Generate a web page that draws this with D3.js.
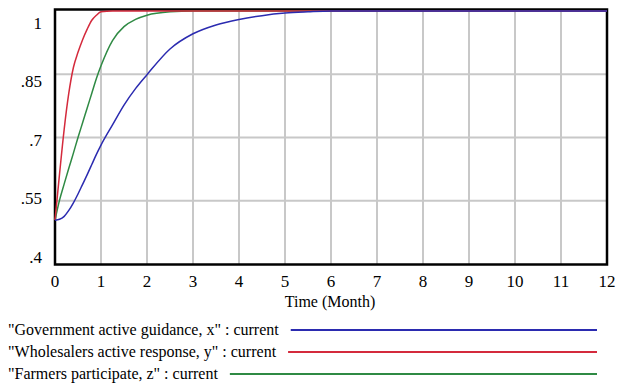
<!DOCTYPE html>
<html>
<head>
<meta charset="utf-8">
<script src="https://cdn.jsdelivr.net/npm/d3@7"></script>
</head>
<body style="margin:0">
<div id="plot"></div>
<script>
// time axis (months) and the three simulated series
const time = [0, 0.1, 0.2, 0.3, 0.4, 0.5, 0.6, 0.7, 0.8, 0.9, 1, 1.25, 1.5, 1.75, 2, 2.5, 3, 3.5, 4, 4.5, 5, 5.5, 6, 7, 8, 9, 10, 11, 12];
const govX = [0.504, 0.506, 0.513, 0.527, 0.545, 0.566, 0.589, 0.612, 0.636, 0.66, 0.682, 0.73, 0.777, 0.816, 0.849, 0.91, 0.946, 0.967, 0.98, 0.989, 0.995, 0.998, 1, 1, 1, 1, 1, 1, 1];
const wholesaleY = [0.504, 0.615, 0.72, 0.805, 0.866, 0.902, 0.932, 0.957, 0.978, 0.99, 0.998, 1, 1, 1, 1, 1, 1, 1, 1, 1, 1, 1, 1, 1, 1, 1, 1, 1, 1];
const farmersZ = [0.504, 0.552, 0.59, 0.627, 0.663, 0.7, 0.735, 0.77, 0.805, 0.84, 0.87, 0.93, 0.963, 0.98, 0.99, 0.998, 1, 1, 1, 1, 1, 1, 1, 1, 1, 1, 1, 1, 1];

const seriesNames = ['"Government active guidance, x" : current', '"Wholesalers active response, y" : current', '"Farmers participate, z" : current'];
const seriesColors = ["#2b2bb0", "#d42a3c", "#2f8a44"];
const xTicks = d3.range(0, 13);
const yTicks = [0.4, 0.55, 0.7, 0.85, 1];
const yTickLabels = [".4", ".55", ".7", ".85", "1"];

let width = 624, height = 389;
let plot = {left: 55, right: 607, top: 11, bottom: 264};
let serif = "'Times New Roman', 'DejaVu Serif', serif";

let svg = d3.select("#plot")
  .append("svg")
    .attr("width", width)
    .attr("height", height)
    .style("display", "block");

let x = d3.scaleLinear().domain([0, 12]).range([plot.left, plot.right]);
let y = d3.scaleLinear().domain([0.4, 1]).range([plot.bottom, plot.top]);
// vensim squeezes the y labels a little inside the frame
let yLab = d3.scaleLinear().domain([0.4, 1]).range([256.5, 22.5]);

// grid
svg.append("g")
  .selectAll("line")
  .data(xTicks.slice(1, -1))
  .enter().append("line")
    .attr("x1", d => x(d)).attr("x2", d => x(d))
    .attr("y1", plot.top).attr("y2", plot.bottom)
    .attr("stroke", "#c8c8c8").attr("stroke-width", 2);
svg.append("g")
  .selectAll("line")
  .data(yTicks.slice(1, -1))
  .enter().append("line")
    .attr("x1", plot.left).attr("x2", plot.right)
    .attr("y1", d => y(d)).attr("y2", d => y(d))
    .attr("stroke", "#c8c8c8").attr("stroke-width", 2);

// frame
svg.append("rect")
  .attr("x", plot.left).attr("y", plot.top - 1.5)
  .attr("width", plot.right - plot.left).attr("height", plot.bottom - plot.top + 2)
  .attr("fill", "none").attr("stroke", "#000").attr("stroke-width", 2.5);

// tick labels
svg.append("g")
  .selectAll("text")
  .data(xTicks)
  .enter().append("text")
    .attr("x", d => x(d))
    .attr("y", 287)
    .attr("text-anchor", "middle")
    .style("font-family", serif)
    .style("font-size", "17px")
    .text(d => d);
svg.append("g")
  .selectAll("text")
  .data(yTicks)
  .enter().append("text")
    .attr("x", 42)
    .attr("y", d => yLab(d) + 6)
    .attr("text-anchor", "end")
    .style("font-family", serif)
    .style("font-size", "17px")
    .text((d, i) => yTickLabels[i]);

svg.append("text")
  .attr("x", 330).attr("y", 307)
  .attr("text-anchor", "middle")
  .style("font-family", serif)
  .style("font-size", "16px")
  .text("Time (Month)");

// curves: green first, then red, blue on top
let line = d3.line().x(d => x(d[0])).y(d => y(d[1])).curve(d3.curveMonotoneX);
let allSeries = [govX, wholesaleY, farmersZ];
[2, 1, 0].forEach(i => {
  svg.append("path")
    .datum(time.map((t, j) => [t, allSeries[i][j]]))
    .attr("d", line)
    .attr("fill", "none")
    .attr("stroke", seriesColors[i])
    .attr("stroke-width", 1.5);
});

// legend
let legendY = [330, 352, 374];
seriesNames.forEach((name, i) => {
  let t = svg.append("text")
    .attr("x", 8).attr("y", legendY[i] + 5)
    .style("font-family", serif)
    .style("font-size", "16px")
    .text(name);
  let end = 8 + t.node().getComputedTextLength();
  svg.append("line")
    .attr("x1", end + 12).attr("x2", 597)
    .attr("y1", legendY[i]).attr("y2", legendY[i])
    .attr("stroke", seriesColors[i]).attr("stroke-width", 2);
});
</script>
</body>
</html>
